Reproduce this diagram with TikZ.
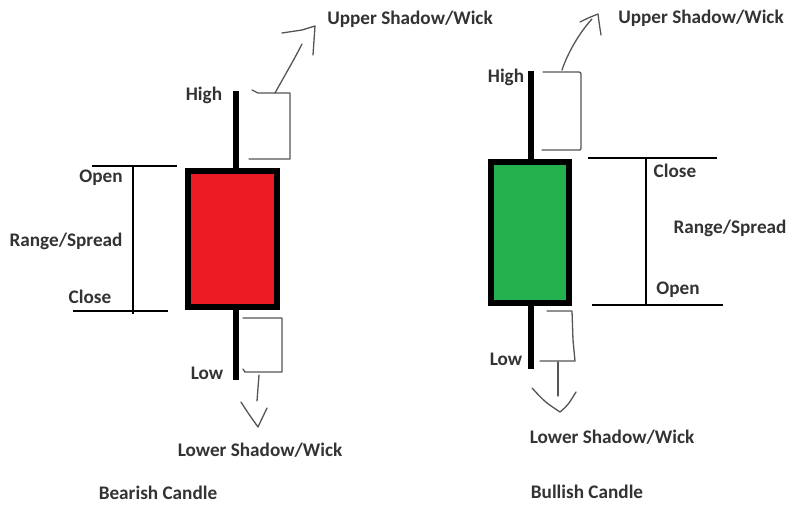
\documentclass[tikz,border=0pt]{standalone}
\usepackage{fontspec}
\setmainfont{Carlito}
\begin{document}
\definecolor{paintred}{HTML}{ED1C24}
\definecolor{paintgreen}{HTML}{22B14C}
\definecolor{labelgray}{HTML}{333333}
\definecolor{pengray}{HTML}{555555}
\begin{tikzpicture}[x=1pt,y=-1pt,
  lbl/.style={font=\fontsize{19.2}{21}\selectfont\bfseries, text=labelgray, inner sep=0pt},
  candlebody/.style={draw=black, line width=6pt, inner sep=0pt, minimum width=#1},
  wick/.style={line width=5.5pt, black},
  rangeline/.style={line width=2.8pt, black},
  pen/.style={draw=pengray, line width=1.3pt, line join=round, line cap=round}]
\useasboundingbox[fill=white] (0,0) rectangle (788,504);

% ---------------- bearish candle ----------------
\coordinate (bhigh) at (236,91);
\coordinate (blow) at (236,380);
\draw[wick] (bhigh) -- (blow);
\node[candlebody=89pt, minimum height=136pt, fill=paintred] (bbody) at (232.5,239) {};

% open / close markers with the range bar
\coordinate (bopenL) at (92,166);  \coordinate (bopenR) at (177,166);
\coordinate (bcloseL) at (73,311); \coordinate (bcloseR) at (168,311);
\coordinate (brangeT) at (133,166); \coordinate (brangeB) at (133,314);
\draw[rangeline] (bopenL) -- (bopenR);
\draw[rangeline] (bcloseL) -- (bcloseR);
\draw[rangeline] (brangeT) -- (brangeB);

\node[lbl] (bopen) at (101,178) {Open};
\node[lbl] (brange) at (66,241) {Range/Spread};
\node[lbl] (bclose) at (90,297) {Close};
\node[lbl] (bhighlbl) at (204,95) {High};
\node[lbl] (blowlbl) at (207,373) {Low};

% upper shadow bracket and hand-drawn pointer
\coordinate (bub1) at (252,90);
\coordinate (bub2) at (258,93);
\coordinate (bub3) at (290,93);
\coordinate (bub4) at (290,159);
\coordinate (bub5) at (249,159);
\draw[pen] (bub1) -- (bub2) -- (bub3) -- (bub4) -- (bub5);
\coordinate (bua0) at (275,93);
\coordinate (bua1) at (302,44);
\coordinate (buh1) at (282,33);
\coordinate (buh2) at (302,30);
\coordinate (buh3) at (315,26);
\coordinate (buh4) at (313,55);
\draw[pen] (bua0) .. controls (285,75) and (295,58) .. (bua1);
\draw[pen] (buh1) -- (buh2) -- (buh3) -- (buh4);
\node[lbl] (bupper) at (410,19) {Upper Shadow/Wick};

% lower shadow bracket and hand-drawn pointer
\coordinate (blb1) at (243,318);
\coordinate (blb2) at (282,318);
\coordinate (blb3) at (282,372);
\coordinate (blb4) at (245,372);
\coordinate (blb5) at (243,369);
\draw[pen] (blb1) -- (blb2) -- (blb3) -- (blb4) -- (blb5);
\coordinate (bla0) at (259,375);
\coordinate (bla1) at (257,401);
\coordinate (blh1) at (241,402);
\coordinate (blh2) at (258,427);
\coordinate (blh3) at (267,408);
\draw[pen] (bla0) -- (bla1);
\draw[pen] (blh1) .. controls (248,413) .. (blh2) .. controls (262,418) .. (blh3);
\node[lbl] (blower) at (260,450) {Lower Shadow/Wick};

\node[lbl] (bname) at (158,493) {Bearish Candle};

% ---------------- bullish candle ----------------
\coordinate (ghigh) at (531,71);
\coordinate (glow) at (531,369);
\draw[wick] (ghigh) -- (glow);
\node[candlebody=78pt, minimum height=141pt, fill=paintgreen] (gbody) at (530,232.5) {};

\coordinate (gcloseL) at (588,158); \coordinate (gcloseR) at (717,158);
\coordinate (gopenL) at (592,305);  \coordinate (gopenR) at (723,305);
\coordinate (grangeT) at (646,158); \coordinate (grangeB) at (646,305);
\draw[rangeline] (gcloseL) -- (gcloseR);
\draw[rangeline] (gopenL) -- (gopenR);
\draw[rangeline] (grangeT) -- (grangeB);

\node[lbl] (gclose) at (675,171) {Close};
\node[lbl] (grange) at (730,228) {Range/Spread};
\node[lbl] (gopen) at (678,290) {Open};
\node[lbl] (ghighlbl) at (506,77) {High};
\node[lbl] (glowlbl) at (506,359) {Low};

% upper shadow bracket and hand-drawn pointer
\coordinate (gub1) at (543,72);
\coordinate (gub2) at (577,72);
\coordinate (gub3) at (581,148);
\coordinate (gub4) at (542,150);
\draw[pen] (gub1) -- (gub2) .. controls (581,72) .. (581,77) -- (gub3) .. controls (581,150) .. (577,150) -- (gub4);
\coordinate (gua0) at (562,70);
\coordinate (gua1) at (592,19);
\coordinate (guh1) at (580,22);
\coordinate (guh2) at (598,14);
\coordinate (guh3) at (601,35);
\draw[pen] (gua0) .. controls (568,52) and (580,32) .. (gua1);
\draw[pen] (guh1) .. controls (588,18) .. (guh2) .. controls (599,22) .. (guh3);
\node[lbl] (gupper) at (701,18) {Upper Shadow/Wick};

% lower shadow bracket and hand-drawn pointer
\coordinate (glb1) at (547,311);
\coordinate (glb2) at (572,311);
\coordinate (glb3) at (575,361);
\coordinate (glb4) at (540,361);
\draw[pen] (glb1) -- (glb2) -- (573,340) -- (glb3) -- (glb4);
\coordinate (gla0) at (558,362);
\coordinate (gla1) at (558,396);
\coordinate (glh1) at (532,388);
\coordinate (glh2) at (560,412);
\coordinate (glh3) at (576,392);
\draw[pen] (gla0) -- (gla1);
\draw[pen] (glh1) .. controls (545,402) .. (glh2) .. controls (568,405) .. (glh3);
\node[lbl] (glower) at (612,437) {Lower Shadow/Wick};

\node[lbl] (gname) at (587,492) {Bullish Candle};
\end{tikzpicture}
\end{document}
